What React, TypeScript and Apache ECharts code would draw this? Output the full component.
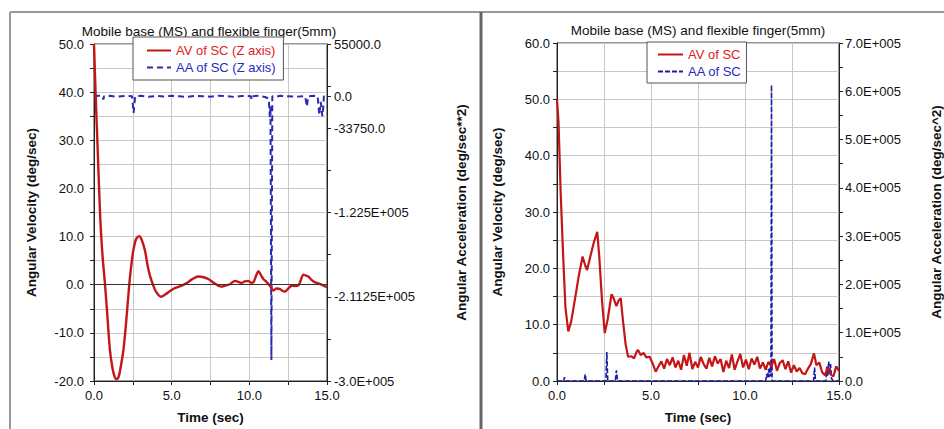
import React, { useEffect, useRef } from "react";
import * as echarts from "echarts";

// ---------- Data: left chart ----------
const titleText = "Mobile base (MS) and flexible finger(5mm)";

const avTimeL = [0, 0.1, 0.25, 0.4, 0.55, 0.71, 0.85, 1.03, 1.2, 1.35, 1.46, 1.6, 1.75, 1.89, 2.05, 2.27, 2.4, 2.53, 2.7, 2.9, 3.05, 3.28, 3.45, 3.6, 3.8, 4.0, 4.31, 4.6, 4.9, 5.2, 5.65, 6.0, 6.3, 6.72, 7.0, 7.36, 7.7, 8.0, 8.2, 8.44, 8.75, 9.08, 9.3, 9.51, 9.7, 9.94, 10.1, 10.26, 10.45, 10.58, 10.75, 10.9, 11.1, 11.33, 11.55, 11.75, 11.98, 12.15, 12.3, 12.5, 12.73, 12.95, 13.15, 13.3, 13.48, 13.65, 13.8, 14.0, 14.23, 14.45, 14.66, 14.85, 15];
const avValL = [50, 40, 27, 14, 6, 0, -6, -13.7, -17.5, -19.3, -19.6, -19, -16.5, -13.7, -8.5, 0, 4, 7.1, 9.4, 10.1, 9.5, 7.1, 4, 1.9, 0, -1.5, -2.5, -2, -1.3, -0.7, -0.2, 0.4, 1.1, 1.7, 1.6, 1.2, 0.4, -0.2, -0.4, -0.2, 0.1, 0.8, 0.6, 0.35, 0.7, 0.8, 0.4, 0.5, 2.0, 2.8, 2.0, 1.2, 0.6, -0.2, -1.2, -0.8, -0.9, -1.3, -1.4, -0.8, -0.2, -0.3, -0.2, 0.8, 2.1, 1.9, 1.7, 1.0, 0.5, 0.3, 0, -0.3, -0.5];

const aaTimeL = [0, 0.3, 0.55, 0.6, 0.65, 1.0, 1.5, 2.0, 2.45, 2.55, 2.65, 3.0, 3.5, 4.0, 4.5, 5.0, 5.5, 6.0, 6.5, 7.0, 7.5, 8.0, 8.5, 9.0, 9.5, 10.1, 10.15, 10.2, 10.6, 11.0, 11.25, 11.32, 11.36, 11.42, 11.48, 11.7, 12.0, 12.5, 13.0, 13.6, 13.7, 13.8, 14.2, 14.4, 14.5, 14.6, 14.7, 14.75, 14.8, 15];
const aaValL = [0, 600, 0, -3500, 0, 400, -500, 300, 0, -17500, 0, 500, -600, 300, -400, 500, 0, -800, 400, 0, -500, 600, 0, -700, 300, 0, -3500, 0, 500, -800, -2500, -22000, -10000, -278000, 0, -600, 500, 0, -500, 0, -11000, 0, 400, 0, -20000, -6000, -21000, -14000, 0, 0];

const leftAxisTicksR = [55000, 10625, 0, -33750, -78125, -122500, -166875, -211250, -255625, -300000];
const leftAxisLabelValsR = [55000, 0, -33750, -122500, -211250, -300000];
const leftAxisLabelTextR = ["55000.0", "0.0", "-33750.0", "-1.225E+005", "-2.1125E+005", "-3.0E+005"];

// ---------- Data: right chart ----------
const avTimeR = [0, 0.08, 0.2, 0.33, 0.45, 0.6, 0.75, 0.95, 1.15, 1.36, 1.5, 1.6, 1.75, 1.95, 2.14, 2.25, 2.4, 2.54, 2.7, 2.9, 3.0, 3.16, 3.28, 3.39, 3.5, 3.65, 3.78, 3.95, 4.1, 4.25, 4.31, 4.45, 4.6, 4.75, 4.93, 5.1, 5.25, 5.4, 5.55, 5.7, 5.85, 6.0, 6.15, 6.3, 6.45, 6.6, 6.75, 6.9, 7.05, 7.2, 7.35, 7.5, 7.65, 7.8, 7.95, 8.1, 8.25, 8.4, 8.55, 8.7, 8.85, 9.0, 9.15, 9.3, 9.45, 9.6, 9.75, 9.9, 10.05, 10.2, 10.35, 10.5, 10.65, 10.8, 10.95, 11.1, 11.25, 11.4, 11.55, 11.7, 11.85, 12.0, 12.15, 12.3, 12.45, 12.6, 12.75, 12.9, 13.05, 13.2, 13.35, 13.5, 13.67, 13.8, 13.95, 14.1, 14.25, 14.4, 14.55, 14.7, 14.85, 15];
const avValR = [50, 46, 33, 22, 13, 8.8, 10.5, 14.4, 18.5, 22.1, 20.5, 19.7, 21.8, 24.5, 26.5, 22, 14, 8.5, 11, 15.4, 14.8, 13.3, 14.3, 14.7, 11, 6.5, 4.3, 4.4, 4.0, 5.3, 5.5, 4.6, 5.0, 4.2, 4.3, 3.0, 1.65, 2.6, 3.5, 2.2, 3.9, 2.8, 4.2, 2.4, 3.6, 2.0, 4.6, 2.7, 5.0, 2.1, 3.4, 2.4, 4.3, 3.0, 2.2, 4.1, 2.6, 4.4, 3.1, 3.9, 1.6, 3.6, 2.3, 4.7, 2.0, 3.5, 4.8, 2.4, 3.8, 2.1, 4.0, 2.9, 4.3, 2.2, 3.3, 2.0, 3.4, 2.6, 3.9, 1.8, 3.2, 3.7, 2.1, 3.5, 1.5, 2.8, 1.7, 2.3, 1.4, 1.2, 2.2, 3.0, 4.9, 2.8, 3.3, 1.6, 1.0, 2.4, 1.2, 0.8, 2.6, 1.8];

const aaTimeR = [0, 0.35, 0.4, 0.45, 1.45, 1.5, 1.55, 2.6, 2.65, 2.7, 3.1, 3.16, 3.22, 6.0, 9.0, 11.1, 11.15, 11.2, 11.25, 11.3, 11.35, 11.38, 11.41, 11.44, 12.5, 13.65, 13.7, 13.75, 14.3, 14.35, 14.4, 14.45, 14.5, 14.55, 14.6, 14.7, 15];
const aaValR = [0, 0, 8000, 0, 0, 14000, 0, 0, 60000, 0, 0, 22000, 0, 0, 0, 0, 15000, 5000, 25000, 8000, 30000, 10000, 613000, 0, 0, 0, 28000, 0, 0, 30000, 10000, 40000, 15000, 35000, 5000, 0, 0];

const FONT = '"Liberation Sans", Arial, Helvetica, sans-serif';
const GRID_C = "#c8c8c8";
const AXIS_C = "#222";
const RED = "#c41616";
const BLUE_L = "#2a2ab4";
const BLUE_R = "#1c1ca8";

const zip = (a: number[], b: number[]) => a.map((t, i) => [t, b[i]]);

const labelStyle = (margin: number) => ({
  color: "#111",
  fontSize: 13,
  fontFamily: FONT,
  margin,
});
const nameStyle = {
  color: "#111",
  fontSize: 13.5,
  fontWeight: "bold" as const,
  fontFamily: FONT,
};

function timeAxis(gridIndex: number) {
  return {
    type: "value",
    gridIndex,
    min: 0,
    max: 15,
    interval: 5,
    name: "Time (sec)",
    nameLocation: "middle",
    nameGap: 29,
    nameTextStyle: nameStyle,
    axisLine: { show: true, onZero: false, lineStyle: { color: AXIS_C, width: 1 } },
    axisTick: { show: true, length: 4, lineStyle: { color: AXIS_C } },
    minorTick: { show: true, splitNumber: 2, length: 4, lineStyle: { color: AXIS_C } },
    splitLine: { show: true, lineStyle: { color: GRID_C } },
    minorSplitLine: { show: true, lineStyle: { color: GRID_C } },
    axisLabel: { ...labelStyle(8), formatter: (v: number) => v.toFixed(1) },
  };
}

function veloAxis(gridIndex: number, min: number, max: number, nameGap: number, margin: number) {
  return {
    type: "value",
    gridIndex,
    position: "left",
    min,
    max,
    interval: 10,
    name: "Angular Velocity (deg/sec)",
    nameLocation: "middle",
    nameRotate: 90,
    nameGap,
    nameTextStyle: nameStyle,
    axisLine: { show: true, lineStyle: { color: AXIS_C } },
    axisTick: { show: true, length: 4, lineStyle: { color: AXIS_C } },
    minorTick: { show: true, splitNumber: 2, length: 4, lineStyle: { color: AXIS_C } },
    splitLine: { show: true, lineStyle: { color: GRID_C } },
    minorSplitLine: { show: true, lineStyle: { color: GRID_C } },
    axisLabel: { ...labelStyle(margin), formatter: (v: number) => v.toFixed(1) },
  };
}

const legendBase = {
  orient: "vertical",
  backgroundColor: "#fff",
  borderColor: "#555",
  borderWidth: 1,
  itemGap: 4,
  itemHeight: 12,
  itemStyle: { opacity: 0, borderWidth: 0 },
  textStyle: { fontSize: 13, fontFamily: FONT },
};

export default function App() {
  const ref = useRef<HTMLDivElement>(null);
  useEffect(() => {
    if (!ref.current) return;
    const chart = echarts.init(ref.current, null, { renderer: "svg" });
    const option: any = {
      animation: false,
      backgroundColor: "#ffffff",
      textStyle: { fontFamily: FONT },
      grid: [
        { left: 94, top: 44, width: 233, height: 337, show: true, borderColor: "#333", borderWidth: 1, backgroundColor: "transparent" },
        { left: 557, top: 43, width: 283, height: 338, show: true, borderColor: "#333", borderWidth: 1, backgroundColor: "transparent" },
      ],
      xAxis: [timeAxis(0), timeAxis(1)],
      yAxis: [
        veloAxis(0, -20, 50, 56, 10),
        {
          type: "value",
          gridIndex: 0,
          position: "right",
          min: -300000,
          max: 55000,
          name: "Angular Acceleration (deg/sec**2)",
          nameLocation: "middle",
          nameRotate: 90,
          nameGap: 127,
          nameTextStyle: nameStyle,
          axisLine: { show: true, lineStyle: { color: AXIS_C } },
          axisTick: { show: true, length: 4, customValues: leftAxisTicksR, lineStyle: { color: AXIS_C } },
          splitLine: { show: false },
          axisLabel: {
            ...labelStyle(7),
            customValues: leftAxisLabelValsR,
            formatter: (v: number) => {
              const i = leftAxisLabelValsR.indexOf(v);
              return i >= 0 ? leftAxisLabelTextR[i] : "";
            },
          },
        },
        veloAxis(1, 0, 60, 53, 7),
        {
          type: "value",
          gridIndex: 1,
          position: "right",
          min: 0,
          max: 700000,
          interval: 100000,
          name: "Angular Acceleration (deg/sec^2)",
          nameLocation: "middle",
          nameRotate: 90,
          nameGap: 90,
          nameTextStyle: nameStyle,
          axisLine: { show: true, lineStyle: { color: AXIS_C } },
          axisTick: { show: true, length: 4, lineStyle: { color: AXIS_C } },
          minorTick: { show: true, splitNumber: 2, length: 4, lineStyle: { color: AXIS_C } },
          splitLine: { show: false },
          axisLabel: {
            ...labelStyle(6),
            formatter: (v: number) => (v === 0 ? "0.0" : (v / 100000).toFixed(1) + "E+005"),
          },
        },
      ],
      legend: [
        {
          ...legendBase,
          left: 133,
          top: 37,
          padding: [7, 7, 6, 13],
          itemWidth: 24,
          data: [
            { name: "AV of SC (Z axis)", textStyle: { color: "#e02020" } },
            { name: "AA of SC (Z axis)", textStyle: { color: "#2a2ac0" } },
          ],
        },
        {
          ...legendBase,
          left: 647,
          top: 42,
          padding: [6, 5, 5, 10],
          itemWidth: 25,
          data: [
            { name: "AV of SC", textStyle: { color: "#e02020" } },
            { name: "AA of SC", textStyle: { color: "#2a2ac0" } },
          ],
        },
      ],
      series: [
        {
          name: "AA of SC (Z axis)",
          type: "line",
          xAxisIndex: 0,
          yAxisIndex: 1,
          data: zip(aaTimeL, aaValL),
          showSymbol: false,
          symbol: "none",
          color: BLUE_L,
          lineStyle: { color: BLUE_L, width: 2, type: [6, 4] },
          z: 3,
        },
        {
          name: "AV of SC (Z axis)",
          type: "line",
          xAxisIndex: 0,
          yAxisIndex: 0,
          data: zip(avTimeL, avValL),
          showSymbol: false,
          symbol: "none",
          smooth: 0.3,
          color: RED,
          lineStyle: { color: RED, width: 2.4 },
          z: 4,
          markLine: {
            silent: true,
            symbol: "none",
            label: { show: false },
            lineStyle: { color: "#333", type: "solid", width: 1.2 },
            data: [{ yAxis: 0 }],
          },
        },
        {
          name: "AA of SC",
          type: "line",
          xAxisIndex: 1,
          yAxisIndex: 3,
          data: zip(aaTimeR, aaValR),
          showSymbol: false,
          symbol: "none",
          color: BLUE_R,
          lineStyle: { color: BLUE_R, width: 1.6, type: [5, 2] },
          z: 3,
        },
        {
          name: "AV of SC",
          type: "line",
          xAxisIndex: 1,
          yAxisIndex: 2,
          data: zip(avTimeR, avValR),
          showSymbol: false,
          symbol: "none",
          color: RED,
          lineStyle: { color: RED, width: 2.2 },
          z: 4,
        },
      ],
      graphic: [
        { type: "line", shape: { x1: 10, y1: 12, x2: 944, y2: 12 }, style: { stroke: "#999", lineWidth: 2 } },
        { type: "line", shape: { x1: 10, y1: 12, x2: 10, y2: 429 }, style: { stroke: "#999", lineWidth: 2 } },
        { type: "line", shape: { x1: 481, y1: 12, x2: 481, y2: 429 }, style: { stroke: "#666", lineWidth: 3 } },
        {
          type: "text",
          x: 209,
          y: 31,
          style: { text: titleText, textAlign: "center", textVerticalAlign: "middle", fontSize: 13.5, fontFamily: FONT, fill: "#111" },
        },
        {
          type: "text",
          x: 698,
          y: 30,
          style: { text: titleText, textAlign: "center", textVerticalAlign: "middle", fontSize: 13.5, fontFamily: FONT, fill: "#111" },
        },
      ],
    };
    chart.setOption(option);
    return () => chart.dispose();
  }, []);
  return (
    <div
      ref={ref}
      style={{ position: "absolute", left: 0, top: 0, width: 944, height: 429, background: "#fff" }}
    />
  );
}
